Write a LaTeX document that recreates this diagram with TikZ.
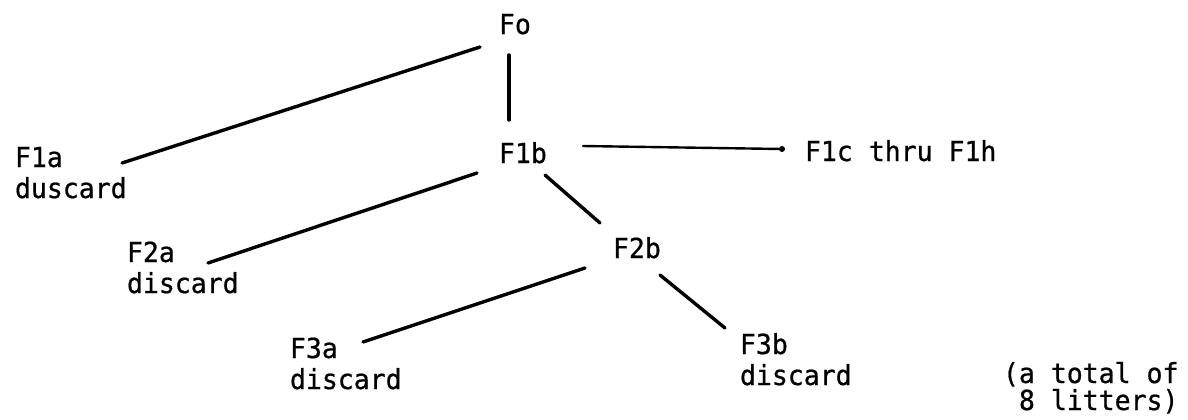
\documentclass[tikz,border=0pt]{standalone}
\usepackage{fontspec}
\newfontfamily\tw[FakeBold=0.7,FakeStretch=0.96]{DejaVu Sans Mono}
\usetikzlibrary{calc}
\begin{document}
\begin{tikzpicture}[x=0.5pt,y=-0.5pt,
  lbl/.style={anchor=base west,inner sep=0pt,outer sep=0pt,font=\tw\fontsize{13.8}{15.5}\selectfont},
  link/.style={line width=1.7pt,line cap=round},
  thin link/.style={line width=1.2pt,line cap=round}]
\useasboundingbox[fill=white] (0,0) rectangle (1188,419);
% nodes
\node[lbl] (Fo)  at (499,34)  {Fo};
\node[lbl] (F1a) at (15,167)  {F1a};
\node[lbl] (F1ad) at (15,198) {duscard};
\node[lbl] (F1b) at (499,163) {F1b};
\node[lbl] (F1c) at (805,161) {F1c thru F1h};
\node[lbl] (F2a) at (127,262) {F2a};
\node[lbl] (F2ad) at (127,293) {discard};
\node[lbl] (F2b) at (613,258) {F2b};
\node[lbl] (F3a) at (290,358) {F3a};
\node[lbl] (F3ad) at (290,389) {discard};
\node[lbl] (F3b) at (740,354) {F3b};
\node[lbl] (F3bd) at (740,385) {discard};
\node[lbl] (tot1) at (1003,383) {(a total of};
\node[lbl] (tot2) at (1003,410) {\ 8 litters)};
% connectors
\draw[link] ($(Fo.base west)+(-19,13)$) -- ($(F1a.base west)+(107,-4)$);
\draw[link] ($(Fo.base west)+(10,21)$) -- ($(F1b.base west)+(10,-43)$);
\draw[thin link] ($(F1b.base west)+(84,-17)$) -- ($(F1c.base west)+(-23,-12)$);
\fill ($(F1c.base west)+(-23,-12)$) circle (3);
\draw[link] ($(F1b.base west)+(-22,10)$) -- ($(F2a.base west)+(81,1)$);
\draw[link] ($(F1b.base west)+(46,12)$) -- ($(F2b.base west)+(-13,-35)$);
\draw[link] ($(F2b.base west)+(-28,10)$) -- ($(F3a.base west)+(73,-16)$);
\draw[link] ($(F2b.base west)+(47,17)$) -- ($(F3b.base west)+(-15,-26)$);
\end{tikzpicture}
\end{document}
